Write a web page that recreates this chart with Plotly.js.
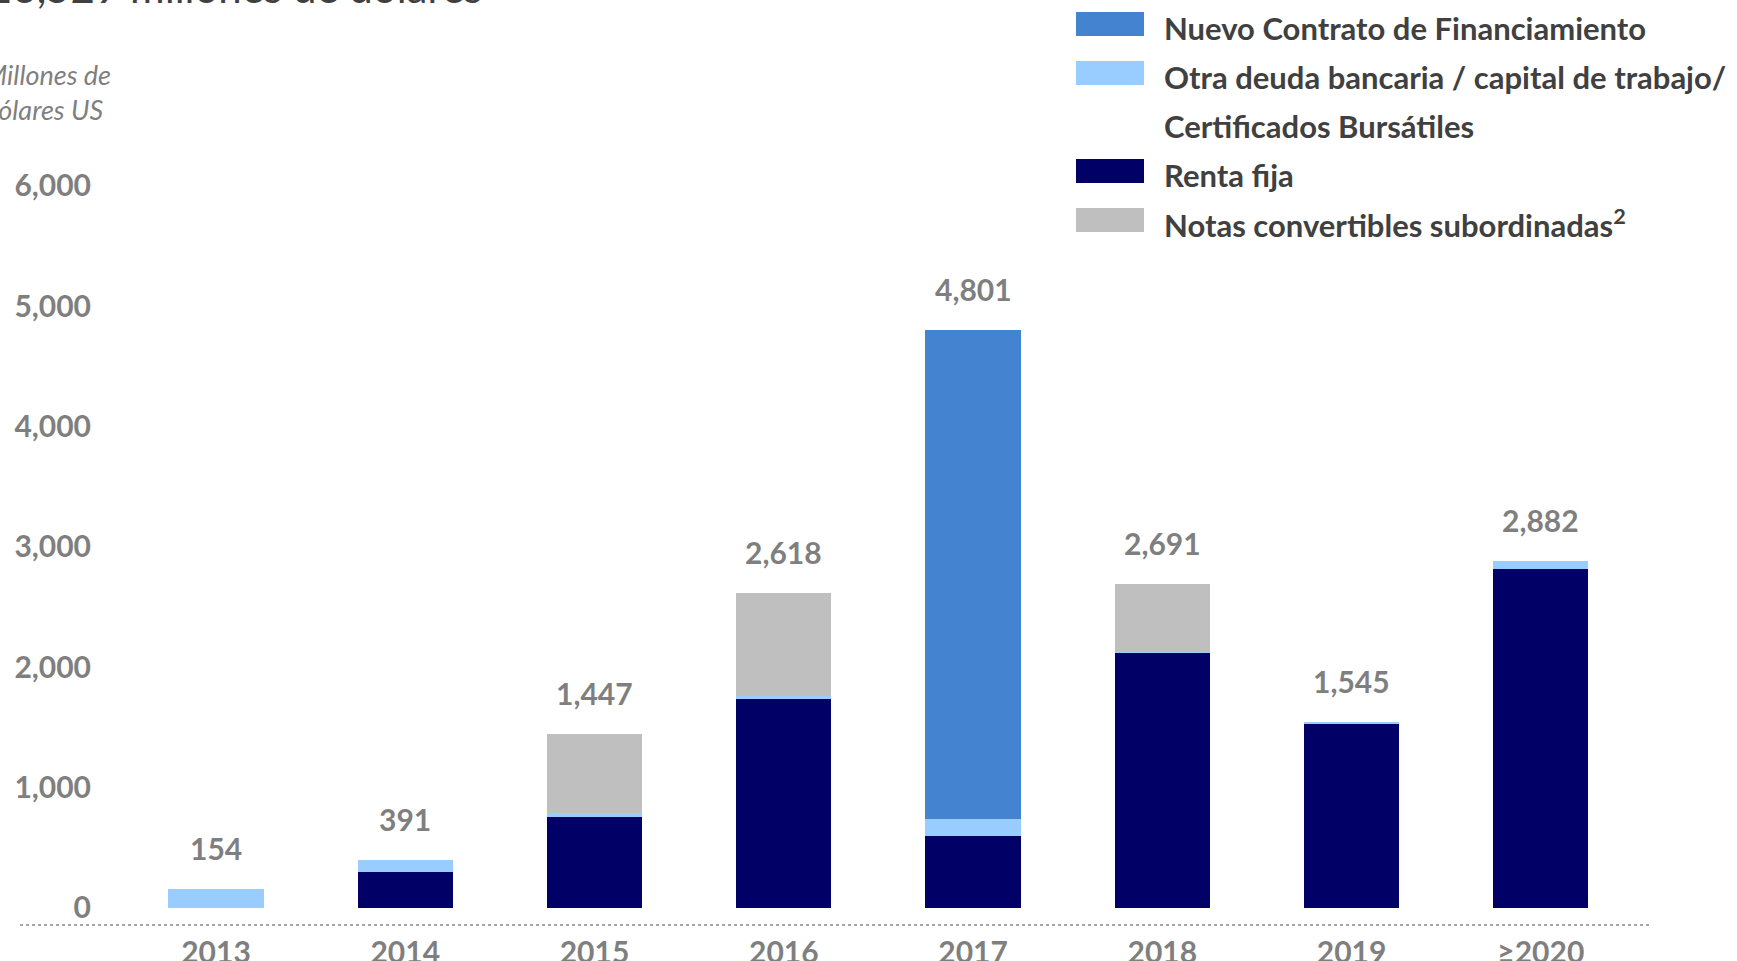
<!DOCTYPE html>
<html>
<head>
<meta charset="utf-8">
<script src="https://cdn.plot.ly/plotly-3.0.1.min.js"></script>
<style>html,body{margin:0;padding:0;background:#fff;}#chart{width:1737px;height:961px;}</style>
</head>
<body>
<div id="chart"></div>
<script>
// ---- Data ----
const categories = ["2013", "2014", "2015", "2016", "2017", "2018", "2019", "≥2020"];
const rentaFija   = [0, 292, 755, 1736, 595, 2114, 1526, 2812];
const otraDeuda   = [154, 99, 28, 23, 141, 11, 19, 70];
const notasConv   = [0, 0, 664, 859, 0, 566, 0, 0];
const nuevoContrato = [0, 0, 0, 0, 4065, 0, 0, 0];
const totals      = [154, 391, 1447, 2618, 4801, 2691, 1545, 2882];
const totalLabels = ["154", "391", "1,447", "2,618", "4,801", "2,691", "1,545", "2,882"];
const yTickVals   = [0, 1000, 2000, 3000, 4000, 5000, 6000];
const yTickText   = ["0", "1,000", "2,000", "3,000", "4,000", "5,000", "6,000"];
const seriesNames = {
  nuevo: "Nuevo Contrato de Financiamiento",
  otra: "Otra deuda bancaria / capital de trabajo/<br>Certificados Bursátiles",
  renta: "Renta fija",
  notas: "Notas convertibles subordinadas<sup>2</sup>"
};
const chartTitle = "16,529 millones de dólares";
const yTitle = "Millones de<br>dólares US";

// ---- Styles ----
const C = {nuevo: "#4383CF", otra: "#99CCFF", renta: "#000066", notas: "#BFBFBF"};
const FONT = "Lato, 'Open Sans', sans-serif";
const W = 1737, H = 961;
const L = 100, R = 87, T = 0, B = 36;
const PW = W - L - R, PH = H - T - B;
const px2x = px => (px - L) / PW;
const py2y = py => 1 - (py - T) / PH;

const toBars = arr => arr.map(v => (v === 0 ? null : v));
const traces = [
  {name: seriesNames.renta, y: rentaFija, color: C.renta},
  {name: seriesNames.otra, y: otraDeuda, color: C.otra},
  {name: seriesNames.notas, y: notasConv, color: C.notas},
  {name: seriesNames.nuevo, y: nuevoContrato, color: C.nuevo}
].map(s => ({
  type: "bar", x: categories, y: toBars(s.y), name: s.name,
  marker: {color: s.color, line: {width: 0}},
  hoverinfo: "x+y+name", showlegend: false
}));

const annotations = [];
// totals above bars
categories.forEach((c, i) => {
  annotations.push({
    x: i, y: totals[i], xref: "x", yref: "y", text: totalLabels[i],
    showarrow: false, yanchor: "bottom", yshift: 21,
    font: {family: FONT, size: 30, color: "#7F7F7F", weight: "bold"}
  });
});
// title (cut off at top)
annotations.push({
  xref: "paper", yref: "paper", x: px2x(484), y: py2y(14), xanchor: "right", yanchor: "bottom",
  text: chartTitle, showarrow: false,
  font: {family: FONT, size: 42, color: "#404040"}
});
// y-axis title
annotations.push({
  xref: "paper", yref: "paper", x: px2x(113), y: py2y(92), xanchor: "right", yanchor: "middle",
  align: "left", text: "<i>" + yTitle + "</i>", showarrow: false,
  font: {family: FONT, size: 27, color: "#7F7F7F"}
});

// custom legend
const shapes = [];
const legendItems = [
  {name: seriesNames.nuevo, color: C.nuevo},
  {name: seriesNames.otra, color: C.otra},
  {name: seriesNames.renta, color: C.renta},
  {name: seriesNames.notas, color: C.notas}
];
let row = 0;
const rowY = r => 28 + r * 49;
legendItems.forEach(it => {
  const cy = rowY(row);
  shapes.push({type: "rect", xref: "paper", yref: "paper",
    x0: px2x(1076), x1: px2x(1144), y0: py2y(cy + 8), y1: py2y(cy - 16),
    fillcolor: it.color, line: {width: 0}});
  it.name.split("<br>").forEach(line => {
    annotations.push({xref: "paper", yref: "paper", x: px2x(1162), y: py2y(rowY(row)),
      xanchor: "left", yanchor: "middle", text: line, showarrow: false,
      font: {family: FONT, size: 31, color: "#404040", weight: "bold"}});
    row++;
  });
});
// dotted baseline
shapes.push({type: "line", xref: "paper", yref: "paper",
  x0: px2x(20), x1: px2x(1650), y0: 0, y1: 0,
  line: {color: "#A6A6A6", width: 2, dash: "dot"}});

const layout = {
  width: W, height: H,
  margin: {l: L, r: R, t: T, b: B},
  paper_bgcolor: "#fff", plot_bgcolor: "#fff",
  barmode: "stack", bargap: 0.496,
  showlegend: false,
  xaxis: {type: "category", range: [-0.613, 7.577], showgrid: false, zeroline: false,
    showline: false, ticks: "", ticklabelstandoff: 7,
    tickfont: {family: FONT, size: 30, color: "#7F7F7F", weight: "bold"}},
  yaxis: {range: [-145.5, 7546.7], tickvals: yTickVals, ticktext: yTickText,
    showgrid: false, zeroline: false, showline: false, ticks: "", ticklabelstandoff: 8,
    tickfont: {family: FONT, size: 30, color: "#7F7F7F", weight: "bold"}},
  annotations: annotations,
  shapes: shapes
};

Plotly.newPlot("chart", traces, layout, {displayModeBar: false, staticPlot: true});
</script>
</body>
</html>
